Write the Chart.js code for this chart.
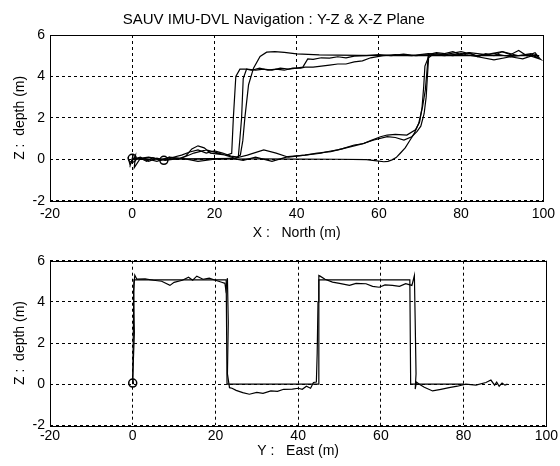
<!DOCTYPE html>
<html lang="en">

<head>
	<meta charset="UTF-8">
	<title>SAUV IMU-DVL Navigation</title>
	<script src="https://cdn.jsdelivr.net/npm/chart.js"></script>
	<style>
		body {
			margin: 0;
			background: #fff;
		}

		.plot {
			position: absolute;
			left: 0;
		}
	</style>
</head>

<body>
	<div class="plot" style="top:0"><canvas id="xzChart" width="560" height="242"></canvas></div>
	<div class="plot" style="top:242px"><canvas id="yzChart" width="560" height="224"></canvas></div>

	<script>
		// axis ticks
		const xTicks = [-20, 0, 20, 40, 60, 80, 100];
		const zTicks = [-2, 0, 2, 4, 6];

		// X-Z plane : reference (smooth) path
		const xzRefX = [0, 10, 20, 25, 26.3, 26.9, 27.4, 28.3, 29.5, 31.1, 32.7, 34.7, 37, 40, 45.5, 55, 65, 72, 80, 90, 99,
			90, 80, 72, 71.8, 71.3, 70.6, 69.7, 68.6, 67.6, 66.4, 65.2, 64.2, 63.2, 62.2, 61.2, 59.5, 57, 50, 40, 30, 20, 10, 0];
		const xzRefZ = [0, 0.02, 0.03, 0.04, 0.2, 0.9, 2.0, 3.6, 4.4, 4.96, 5.17, 5.2, 5.16, 5.09, 5.04, 5.02, 5.0, 5.02, 5.0, 5.01, 5.0,
			5.0, 5.0, 5.0, 4.5, 3.35, 2.5, 1.74, 1.25, 0.93, 0.55, 0.29, 0.08, -0.03, -0.1, -0.12, -0.08, -0.02, 0.0, 0.01, 0.02, 0.0, 0.01, 0];

		// X-Z plane : IMU-DVL estimate, run 1
		const xzEst1X = [-1, -0.5, 0.3, -0.3, 0.8, 0.5, 2, 3.5, 5, 7, 9, 11, 13, 14.5, 16, 17.5, 19, 21, 23, 24.2, 24.6, 25.2, 26.2, 27.8, 30, 32, 34, 36, 38, 40, 41.5,
			42.7, 44, 46, 48, 50, 52, 54, 57, 60, 63, 66, 69, 72, 74, 76, 78, 80, 82, 84, 86, 88, 90, 92, 94, 96, 98, 99,
			98, 95, 92, 88, 84, 80, 76, 73, 72.1, 71.8, 71.5, 71.0, 70.2, 69.3, 68.0, 66.1, 64, 62, 58.8, 56, 54, 51, 48.3, 45,
			42, 38, 35, 32, 28, 25, 21, 18, 15, 12, 9, 6, 3, 0];
		const xzEst1Z = [0.1, -0.3, 0.25, -0.2, 0.2, -0.4, 0.05, -0.1, 0.08, -0.05, 0.1, 0.0, 0.15, 0.5, 0.65, 0.55, 0.3, 0.25, 0.2, 0.29, 2.0, 4.0, 4.35, 4.35, 4.3, 4.35, 4.3, 4.4, 4.35, 4.4, 4.45,
			4.85, 4.82, 4.9, 4.88, 4.95, 4.9, 4.98, 5.0, 5.05, 5.0, 5.08, 5.0, 5.05, 5.15, 5.1, 5.2, 5.05, 5.15, 4.95, 5.1, 5.0, 5.2, 5.05, 5.25, 5.0, 5.15, 4.9,
			5.05, 4.85, 4.95, 4.8, 4.95, 5.1, 5.0, 5.05, 4.9, 4.0, 3.0, 2.2, 1.6, 1.35, 1.09, 0.93, 1.05, 1.09, 0.93, 0.75, 0.69, 0.5, 0.37, 0.3,
			0.2, 0.1, 0.3, 0.45, 0.2, 0.05, 0.3, 0.45, 0.3, 0.05, 0.1, -0.1, 0.05, 0];

		// X-Z plane : IMU-DVL estimate, run 2
		const xzEst2X = [0, 2, 4, 6, 8, 10, 12, 14, 16, 18, 20, 22, 24, 25.8, 26.2, 26.6, 27.0, 27.8, 29, 31, 33, 35, 37, 39, 41, 42, 44, 46, 48,
			50, 52, 54, 56, 58, 61, 64, 68, 72, 76, 80, 84, 88, 92, 96, 99,
			97, 94, 90, 86, 82, 78, 74, 72.2, 71.2, 70.9, 70.5, 69.9, 68.9, 66.8, 64, 62, 60.4, 58, 56.4, 53, 50, 47, 45.9, 42,
			37.9, 34, 30, 27, 24, 20, 16, 12, 8, 4, 0];
		const xzEst2Z = [0, 0.1, -0.1, 0.05, -0.05, 0.1, 0.2, 0.35, 0.45, 0.3, 0.4, 0.3, 0.15, 0.1, 1.0, 1.98, 3.9, 4.35, 4.3, 4.4, 4.3, 4.35, 4.3, 4.4, 4.4, 4.45, 4.45, 4.5, 4.55,
			4.6, 4.6, 4.7, 4.75, 4.9, 5.0, 5.05, 5.0, 5.1, 5.05, 5.2, 5.0, 5.1, 4.95, 5.05, 4.85,
			5.1, 5.0, 5.2, 5.05, 5.15, 5.0, 5.1, 5.0, 4.5, 3.5, 2.5, 1.8, 1.42, 1.17, 1.2, 1.17, 1.09, 0.9, 0.77, 0.6, 0.45, 0.35, 0.29, 0.2,
			0.13, -0.1, 0.1, -0.05, 0.05, 0.0, -0.1, 0.05, -0.05, 0.1, 0];

		// X-Z plane : start markers
		const xzMarkX = [0, 7.7];
		const xzMarkZ = [0.05, -0.05];

		// Y-Z plane : reference path
		const yzRefX = [0, 0.3, 22.6, 22.8, 44.8, 45.0, 67.0, 67.2, 80];
		const yzRefZ = [0, 5.07, 5.07, 0, 0, 5.07, 5.07, 0, 0];

		// Y-Z plane : IMU-DVL estimate
		const yzEstX = [0.2, 0, 0.4, 0.2, 0.5, 1, 3, 5, 7, 9, 10, 12, 13.5, 14.5, 15.5, 17, 18.5, 20, 21.5, 22.3, 22.5, 22.9, 23.1, 22.9, 23.4,
			24, 25, 26.6, 28.2, 30, 31.5, 33.4, 35, 36.5, 38.6, 40, 41, 42, 43, 43.7, 44.4, 44.6, 44.8, 45, 45.3, 46.5, 48.3, 50, 52.4,
			54, 56.4, 58, 59.6, 61, 62.8, 64.5, 66, 67.5, 68.1, 68.3, 68.5, 68.3, 68.6, 69.3, 70.5, 72.5, 74.5, 76.5, 78.5, 80.5, 83,
			85.4, 86.6, 87.5, 88, 88.6, 89.3, 90, 90.6];
		const yzEstZ = [0, 0.3, 2.5, 4.5, 5.3, 5.1, 5.12, 5.05, 5.0, 4.8, 4.95, 5.05, 5.2, 5.05, 5.25, 5.1, 5.15, 5.05, 4.95, 4.9, 4.6, 5.15, 3.0, 0.5, -0.17,
			-0.2, -0.3, -0.41, -0.49, -0.4, -0.45, -0.33, -0.35, -0.25, -0.24, -0.2, -0.25, -0.1, -0.2, 0.08, 0.1, 1.5, 4.0, 5.28, 5.25, 5.1, 4.96, 4.9, 4.8,
			4.9, 4.88, 4.75, 4.71, 4.82, 4.8, 4.75, 4.88, 4.8, 5.28, 3.0, 0.5, -0.24, 0.1, 0.0, -0.15, -0.33, -0.25, -0.17, -0.1, 0.0, -0.05,
			0.08, 0.2, -0.05, 0.1, -0.1, 0.05, -0.05, 0];

		const yzMarkX = [0];
		const yzMarkZ = [0.05];

		const FONT = '"Liberation Sans", Arial, sans-serif';

		function pts(xs, zs) {
			return xs.map((x, i) => ({ x: x, y: zs[i] }));
		}

		function lineSet(xs, zs) {
			return {
				data: pts(xs, zs),
				showLine: true,
				borderColor: '#000',
				borderWidth: 1.2,
				pointRadius: 0,
				tension: 0
			};
		}

		function markSet(xs, zs) {
			return {
				data: pts(xs, zs),
				showLine: false,
				pointRadius: 4,
				pointBorderWidth: 1.5,
				pointBorderColor: '#000',
				pointBackgroundColor: 'rgba(0,0,0,0)'
			};
		}

		// Chart.js only draws the bottom/left axis lines, so close the box by hand
		const boxPlugin = {
			id: 'box',
			afterDraw(chart) {
				const a = chart.chartArea;
				const ctx = chart.ctx;
				ctx.save();
				ctx.strokeStyle = '#000';
				ctx.lineWidth = 1;
				ctx.strokeRect(Math.round(a.left) + 0.5, Math.round(a.top) + 0.5,
					Math.round(a.right - a.left), Math.round(a.bottom - a.top));
				ctx.restore();
			}
		};

		function makeOptions(o) {
			return {
				responsive: false,
				animation: false,
				devicePixelRatio: 1,
				layout: { padding: { left: 0, right: 12.5, top: o.padTop, bottom: 0 } },
				plugins: {
					legend: { display: false },
					tooltip: { enabled: false },
					title: o.title ? {
						display: true,
						text: o.title,
						color: '#000',
						font: { family: FONT, size: 15, weight: 'normal' },
						padding: { top: 11, bottom: 6 }
					} : { display: false }
				},
				scales: {
					x: {
						type: 'linear',
						min: -20,
						max: 100,
						afterBuildTicks: s => { s.ticks = xTicks.map(v => ({ value: v })); },
						afterFit: s => { s.height = o.xHeight; },
						grid: { color: '#000', lineWidth: 1, drawTicks: false },
						border: { display: false, dash: [3, 3] },
						ticks: { color: '#000', padding: o.xTickPad, font: { family: FONT, size: 14 } },
						title: {
							display: true,
							text: o.xLabel,
							color: '#000',
							font: { family: FONT, size: 14 },
							padding: { top: 0, bottom: o.xTitlePad }
						}
					},
					y: {
						type: 'linear',
						min: -2,
						max: 6,
						afterBuildTicks: s => { s.ticks = zTicks.map(v => ({ value: v })); },
						afterFit: s => { s.width = 50; },
						grid: { color: '#000', lineWidth: 1, drawTicks: false },
						border: { display: false, dash: [3, 3] },
						ticks: { color: '#000', padding: 5, font: { family: FONT, size: 14 } },
						title: {
							display: true,
							text: 'Z :  depth (m)',
							color: '#000',
							font: { family: FONT, size: 14 },
							padding: { top: 12, bottom: 0 }
						}
					}
				}
			};
		}

		new Chart(document.getElementById('xzChart'), {
			type: 'scatter',
			data: {
				datasets: [
					lineSet(xzRefX, xzRefZ),
					lineSet(xzEst1X, xzEst1Z),
					lineSet(xzEst2X, xzEst2Z),
					markSet(xzMarkX, xzMarkZ)
				]
			},
			options: makeOptions({
				title: 'SAUV IMU-DVL Navigation : Y-Z & X-Z Plane',
				xLabel: 'X :   North (m)',
				padTop: 0,
				xHeight: 41.3,
				xTickPad: 5,
				xTitlePad: 0
			}),
			plugins: [boxPlugin]
		});

		new Chart(document.getElementById('yzChart'), {
			type: 'scatter',
			data: {
				datasets: [
					lineSet(yzRefX, yzRefZ),
					lineSet(yzEstX, yzEstZ),
					markSet(yzMarkX, yzMarkZ)
				]
			},
			options: makeOptions({
				title: null,
				xLabel: 'Y :   East (m)',
				padTop: 18.7,
				xHeight: 40.7,
				xTickPad: 2,
				xTitlePad: 6
			}),
			plugins: [boxPlugin]
		});
	</script>

</body>

</html>
